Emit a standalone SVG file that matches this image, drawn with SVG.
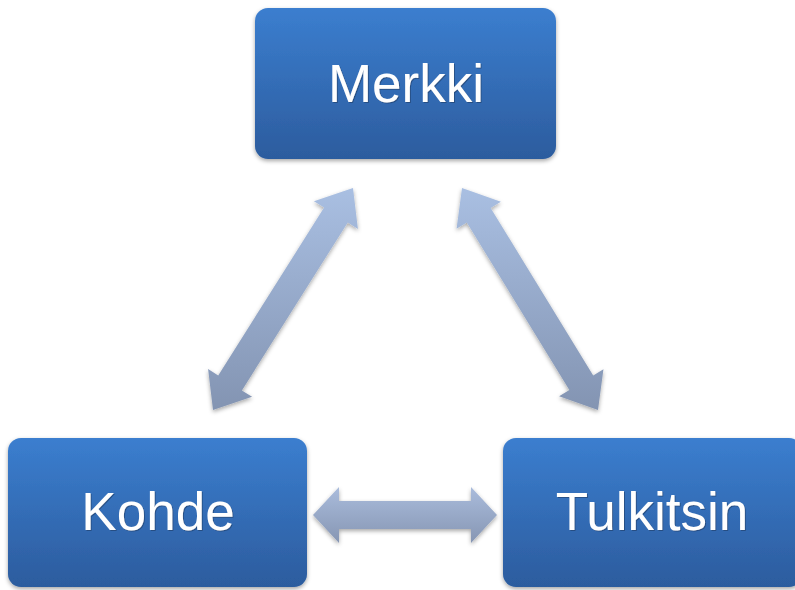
<svg xmlns="http://www.w3.org/2000/svg" width="795" height="590" viewBox="0 0 795 590">
  <defs>
    <linearGradient id="boxGrad" x1="0" y1="0" x2="0" y2="1">
      <stop offset="0" stop-color="#3b7ecf"/>
      <stop offset="1" stop-color="#2c5c9e"/>
    </linearGradient>
    <linearGradient id="arrL" gradientUnits="userSpaceOnUse" x1="0" y1="188" x2="0" y2="410">
      <stop offset="0" stop-color="#a9bfe2"/>
      <stop offset="1" stop-color="#8394b2"/>
    </linearGradient>
    <linearGradient id="arrH" gradientUnits="userSpaceOnUse" x1="0" y1="487" x2="0" y2="543">
      <stop offset="0" stop-color="#aabcdc"/>
      <stop offset="1" stop-color="#8696b3"/>
    </linearGradient>
    <filter id="shadow" x="-10%" y="-10%" width="120%" height="130%">
      <feDropShadow dx="0" dy="2" stdDeviation="2" flood-color="#000" flood-opacity="0.35"/>
    </filter>
    <filter id="txtShadow" x="-10%" y="-10%" width="120%" height="130%">
      <feDropShadow dx="1" dy="1" stdDeviation="0.6" flood-color="#1a3a66" flood-opacity="0.6"/>
    </filter>
  </defs>
  <style>
    .box { fill: url(#boxGrad); filter: url(#shadow); }
    .lbl { font-family: "Liberation Sans", Arial, sans-serif; font-size: 53px; fill: #ffffff; text-anchor: middle; filter: url(#txtShadow); }
    .arr { filter: url(#shadow); }
  </style>
  <rect width="795" height="590" fill="#ffffff"/>
  <g id="connectors">
    <polygon class="arr" fill="url(#arrL)" points="353,188 357.92,228.93 347.77,222.53 241.91,390.41 252.06,396.81 213,410 208.08,369.07 218.23,375.47 324.09,207.59 313.94,201.19"/>
    <polygon class="arr" fill="url(#arrL)" points="462,188 500.89,201.71 490.66,207.98 593.22,375.40 603.45,369.13 598,410 559.11,396.29 569.34,390.02 466.78,222.60 456.55,228.87"/>
    <polygon class="arr" fill="url(#arrH)" points="313,515 339,487 339,501 471,501 471,487 497,515 471,543 471,529 339,529 339,543"/>
  </g>
  <g id="merkki">
    <rect class="box" x="255" y="8" width="301" height="151" rx="13" ry="13"/>
    <text class="lbl" x="406" y="102">Merkki</text>
  </g>
  <g id="kohde">
    <rect class="box" x="8" y="438" width="299" height="149" rx="13" ry="13"/>
    <text class="lbl" x="158" y="530">Kohde</text>
  </g>
  <g id="tulkitsin">
    <rect class="box" x="503" y="438" width="299" height="149" rx="13" ry="13"/>
    <text class="lbl" x="652" y="530">Tulkitsin</text>
  </g>
</svg>
